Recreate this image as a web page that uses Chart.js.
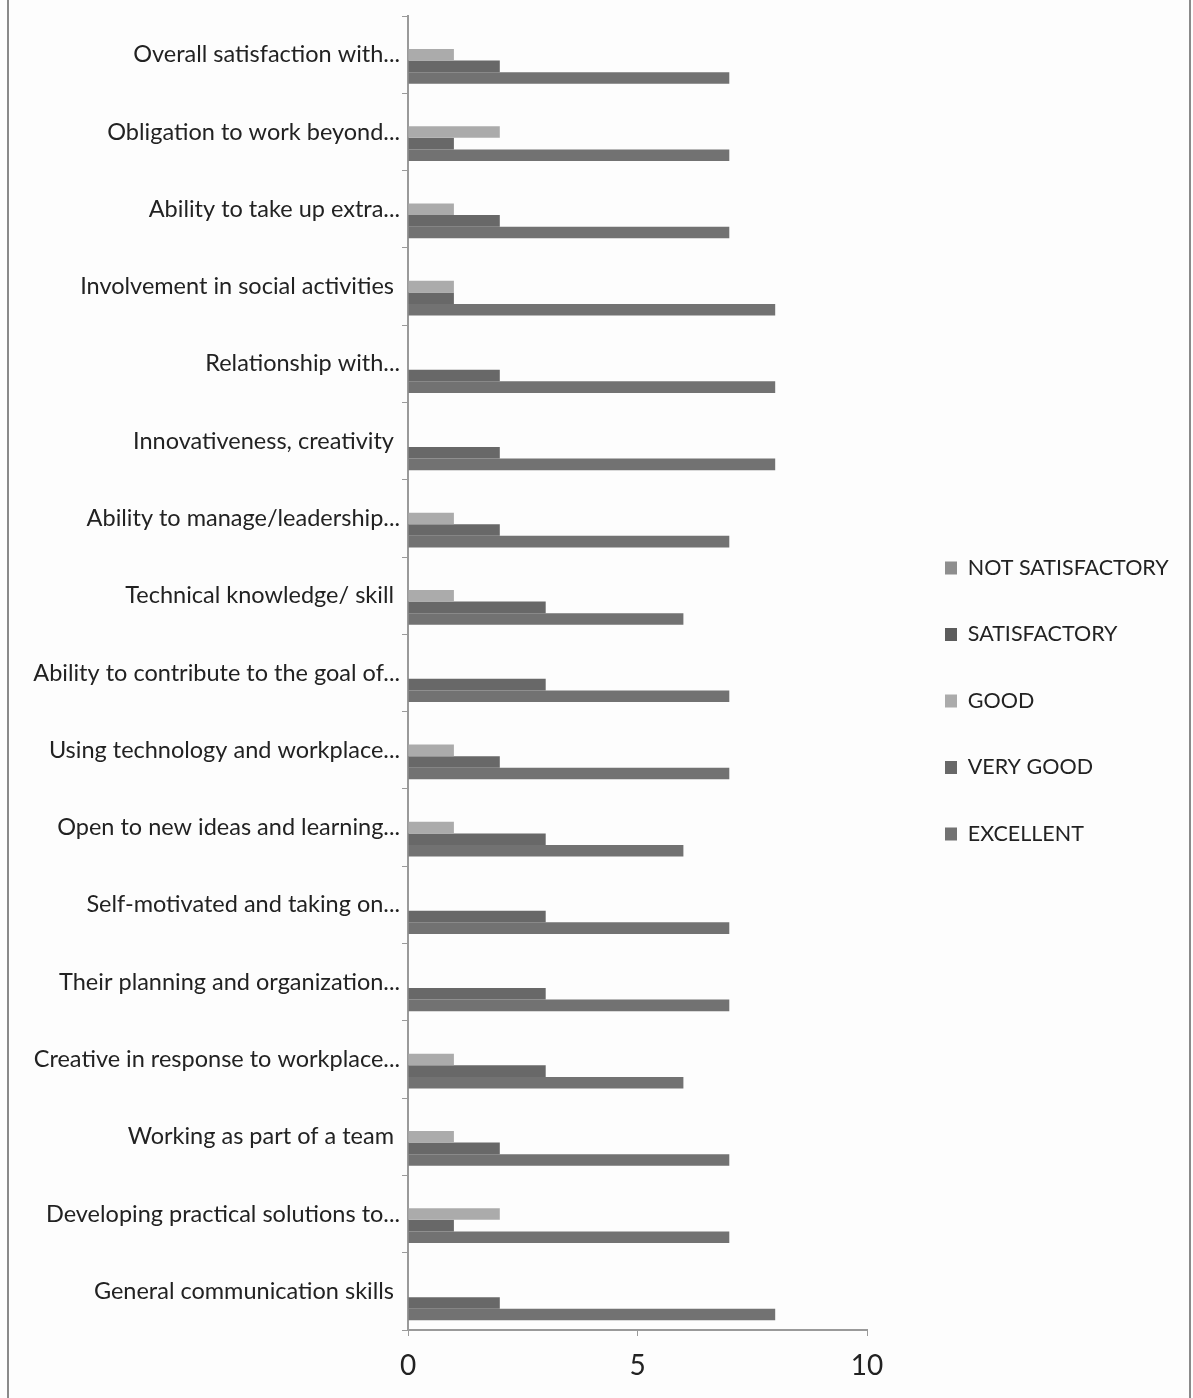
<!DOCTYPE html>
<html>
<head>
<meta charset="utf-8">
<script src="https://cdn.jsdelivr.net/npm/chart.js@4.4.1/dist/chart.umd.min.js"></script>
<style>
  html, body { margin: 0; padding: 0; background: #fdfdfd; }
  #wrap { position: relative; width: 1193px; height: 1398px; }
  #c { position: absolute; left: 0; top: 0; }
  .edge { position: absolute; top: 0; width: 2px; height: 1398px; background: #8a8a8a; }
</style>
</head>
<body>
<div id="wrap">
  <canvas id="c" width="1193" height="1398"></canvas>
  <div class="edge" style="left:7px"></div>
  <div class="edge" style="left:1189px"></div>
</div>
<script>
const categories = [
  "Overall satisfaction with...",
  "Obligation to work beyond...",
  "Ability to take up extra...",
  "Involvement in social activities ",
  "Relationship with...",
  "Innovativeness, creativity ",
  "Ability to manage/leadership...",
  "Technical knowledge/ skill ",
  "Ability to contribute to the goal of...",
  "Using technology and workplace...",
  "Open to new ideas and learning...",
  "Self-motivated and taking on...",
  "Their planning and organization...",
  "Creative in response to workplace...",
  "Working as part of a team ",
  "Developing practical solutions to...",
  "General communication skills "
];
const seriesNames = ["NOT SATISFACTORY", "SATISFACTORY", "GOOD", "VERY GOOD", "EXCELLENT"];
const notSatisfactory = [0,0,0,0,0,0,0,0,0,0,0,0,0,0,0,0,0];
const satisfactory    = [0,0,0,0,0,0,0,0,0,0,0,0,0,0,0,0,0];
const good            = [1,2,1,1,0,0,1,1,0,1,1,0,0,1,1,2,0];
const veryGood        = [2,1,2,1,2,2,2,3,3,2,3,3,3,3,2,1,2];
const excellent       = [7,7,7,8,8,8,7,6,7,7,6,7,7,6,7,7,8];
const xTicks = [0, 5, 10];

const colors = ["#8e8e8e", "#5c5c5c", "#ababab", "#686868", "#727272"];
const FONT = 'Lato, Roboto, sans-serif';

const seriesValues = [notSatisfactory, satisfactory, good, veryGood, excellent];

// legend geometry: plot area ends at x=867, legend swatches start at x=945
const PAD_RIGHT = 6;
const PLOT_RIGHT = 867;
const LEGEND_ITEM_X = 945;
const LEGEND_PAD = 45;
const LEGEND_DY = -4.5;

const legendShift = {
  id: 'legendShift',
  beforeInit(chart) {
    const lg = chart.legend;
    if (lg && !lg._patched) {
      const orig = lg.fit;
      lg.fit = function () {
        orig.call(this);
        this.width = chart.width - PAD_RIGHT - PLOT_RIGHT;
      };
      lg._patched = true;
    }
  },
  afterLayout(chart) {
    const lg = chart.legend;
    if (lg) {
      lg.left = LEGEND_ITEM_X - LEGEND_PAD;
      lg.top += LEGEND_DY;
      lg.bottom += LEGEND_DY;
    }
  }
};

new Chart(document.getElementById('c'), {
  type: 'bar',
  data: {
    labels: categories,
    datasets: seriesNames.map((name, i) => ({
      label: name,
      data: seriesValues[i],
      backgroundColor: colors[i],
      borderWidth: 0,
      barPercentage: 1.0,
      categoryPercentage: 0.75
    }))
  },
  options: {
    indexAxis: 'y',
    responsive: false,
    animation: false,
    layout: { padding: { top: 13, right: PAD_RIGHT, bottom: 0, left: 0 } },
    scales: {
      x: {
        min: 0, max: 10,
        afterBuildTicks(scale) { scale.ticks = xTicks.map(v => ({ value: v })); },
        afterFit(scale) { scale.height = 68; },
        grid: { drawOnChartArea: false, drawTicks: true, tickLength: 6, color: '#9a9a9a' },
        border: { color: '#9a9a9a', width: 2 },
        ticks: { color: '#222222', padding: 13, font: { family: FONT, size: 28 } }
      },
      y: {
        afterFit(scale) { scale.width = 408; },
        grid: { drawOnChartArea: false, drawTicks: true, tickLength: 6, color: '#9a9a9a', offset: true },
        border: { color: '#9a9a9a', width: 2 },
        ticks: { color: '#222222', padding: 2, autoSkip: false, font: { family: FONT, size: 23.5 } }
      }
    },
    plugins: {
      legend: {
        position: 'right',
        align: 'center',
        labels: {
          color: '#222222',
          boxWidth: 12,
          boxHeight: 13,
          padding: LEGEND_PAD,
          font: { family: FONT, size: 21.5 }
        }
      },
      tooltip: { enabled: false }
    }
  },
  plugins: [legendShift]
});
</script>
</body>
</html>
